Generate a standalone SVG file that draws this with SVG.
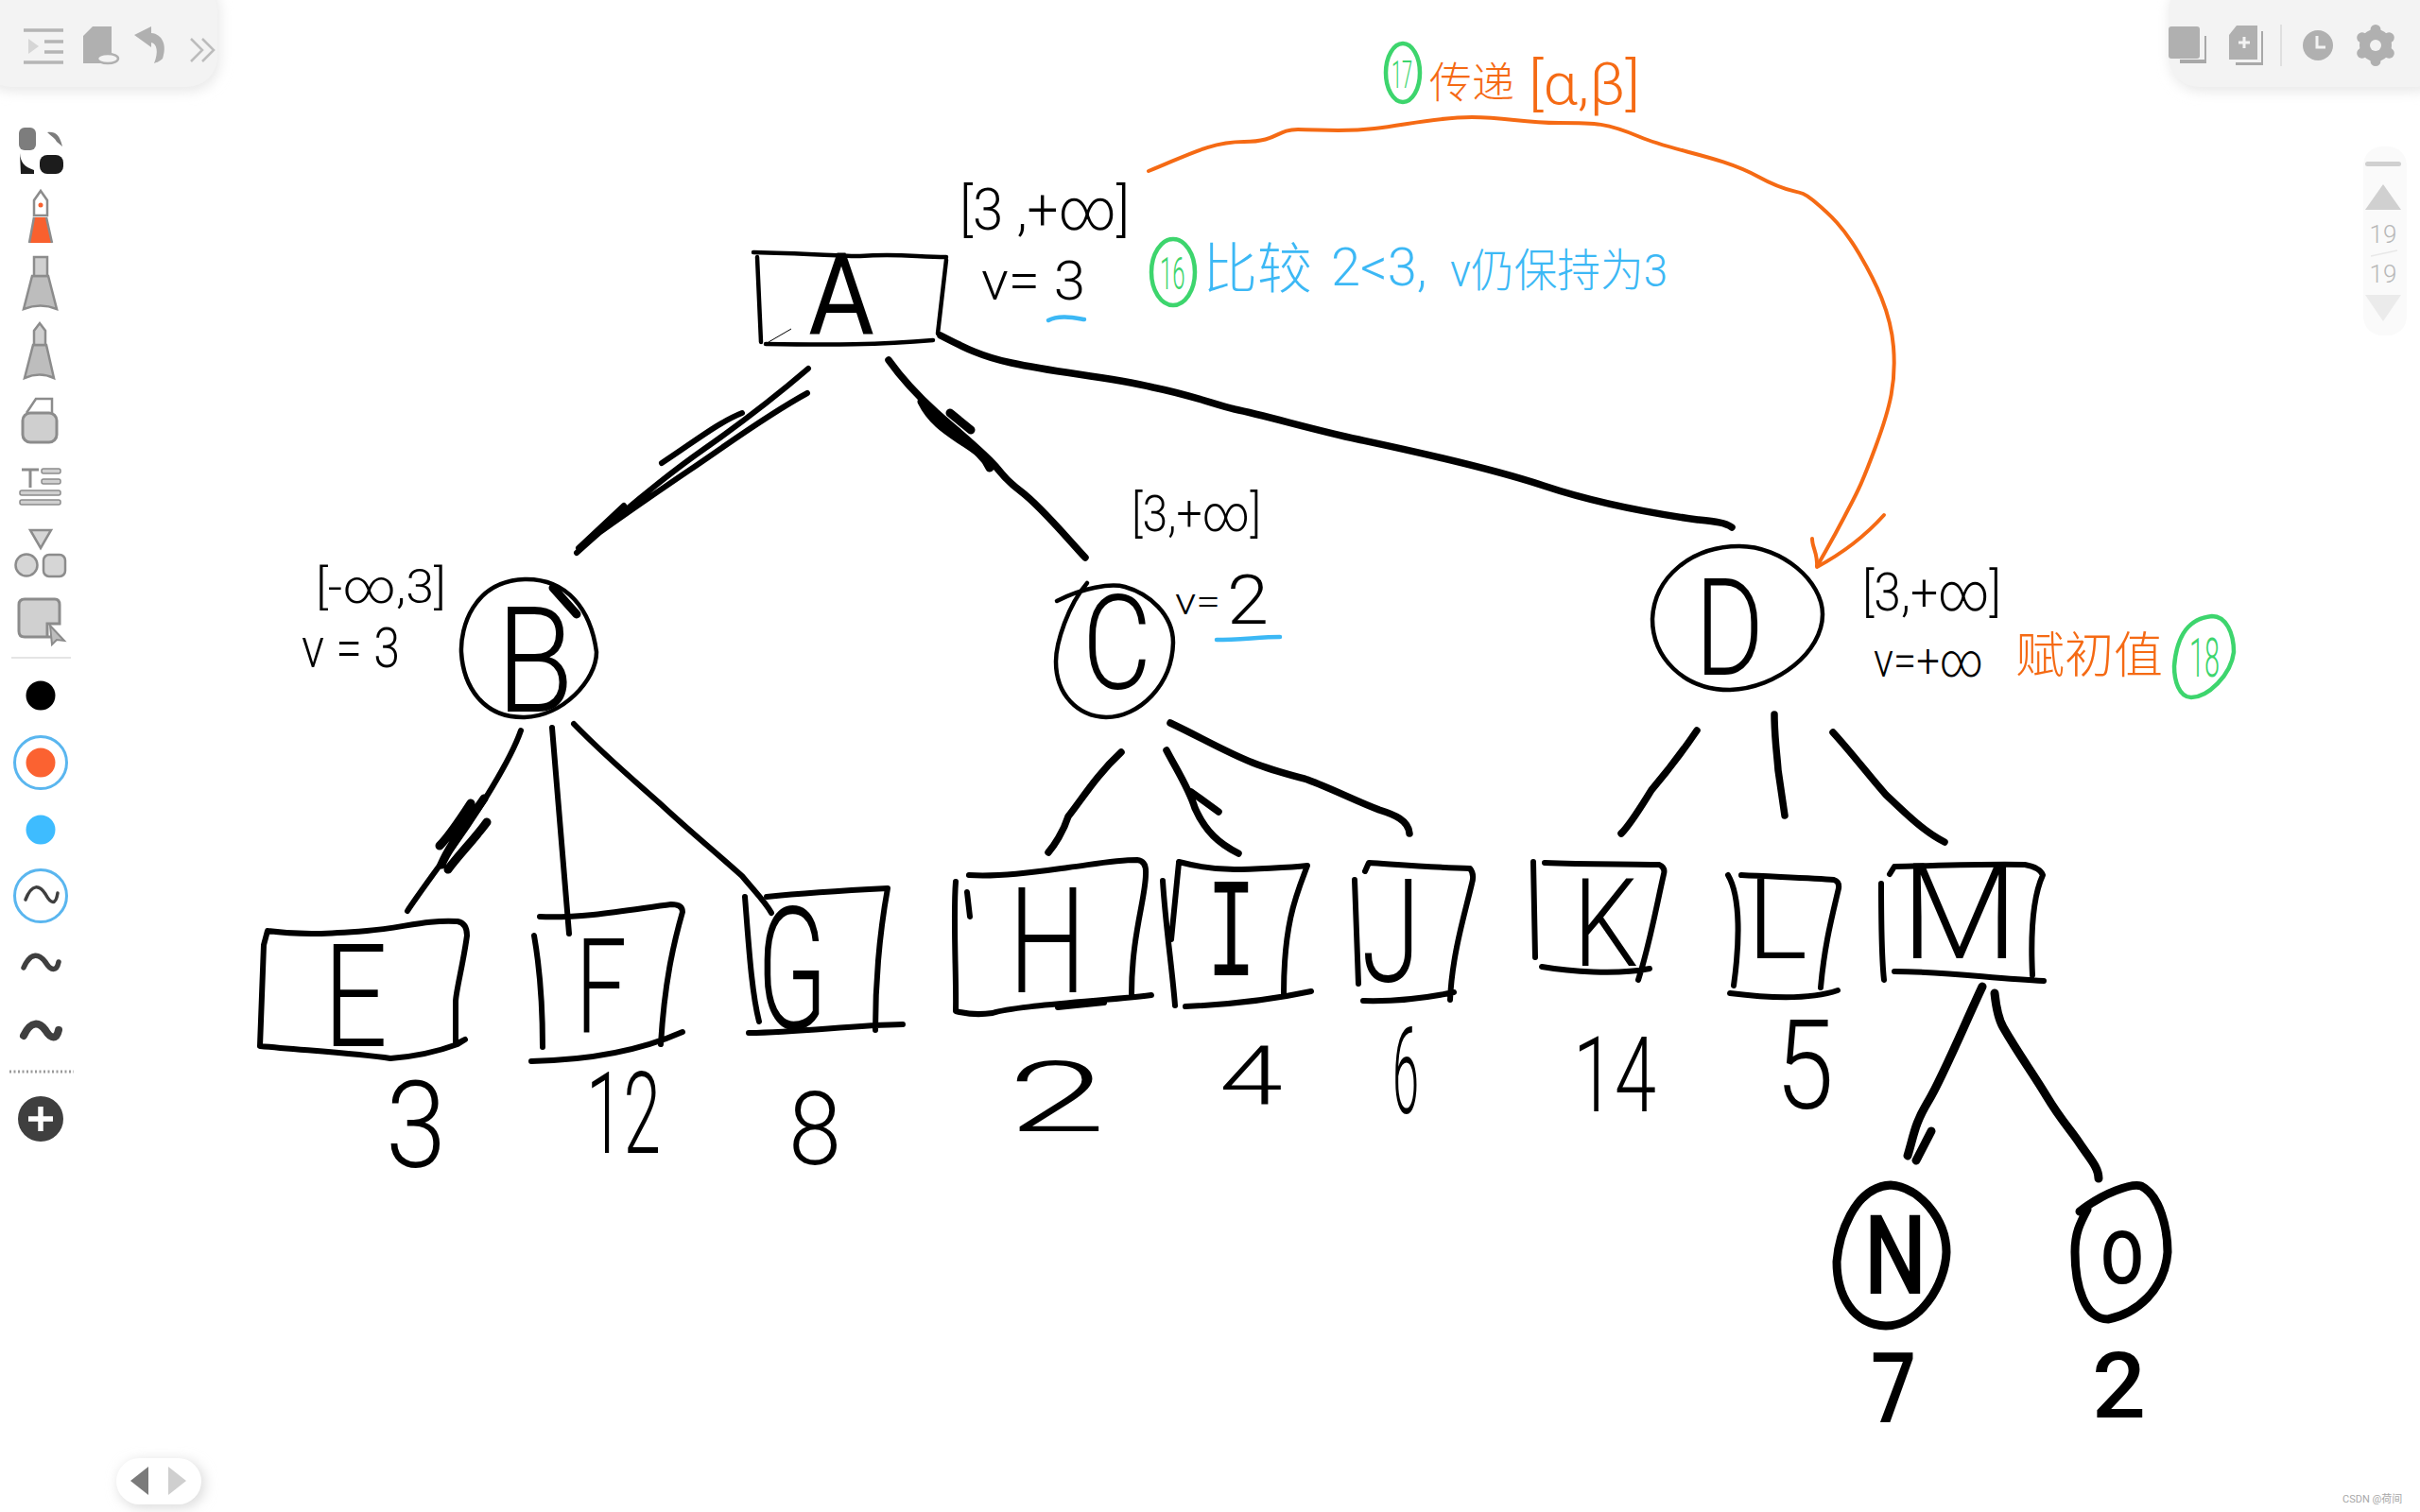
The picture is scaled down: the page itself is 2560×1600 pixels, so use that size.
<svg xmlns="http://www.w3.org/2000/svg" width="2560" height="1600" viewBox="0 0 2560 1600">
<style>
.k{fill:none;stroke:#000;stroke-width:6;stroke-linecap:round;stroke-linejoin:round}
.t{stroke-width:4.5}
.b{stroke-width:9}
.e{stroke-width:7.5}
.o{fill:none;stroke:#f56a14;stroke-width:4;stroke-linecap:round;stroke-linejoin:round}
.g{fill:none;stroke:#3dd56d;stroke-width:4.5}
.u{fill:none;stroke:#3cb8f5;stroke-width:4.5;stroke-linecap:round}
text{font-family:Roboto,"Liberation Sans","Noto Sans CJK SC",sans-serif}
.h{fill:#000;font-weight:300}
.hb{fill:#000;font-weight:400}
.hc{fill:#000;font-weight:500}
.cb{fill:#3cb8f5;font-weight:300;font-family:Roboto,"Noto Sans CJK SC",sans-serif}
.co{fill:#f56a14;font-weight:300;font-family:Roboto,"Noto Sans CJK SC",sans-serif}
.cg{fill:#3dd56d;font-weight:300}
.i{fill:#b0b0b0}
.w{fill:none;stroke:#3f3f3f;stroke-linecap:round}
</style>
<defs>
<filter id="sh" x="-20%" y="-40%" width="140%" height="180%"><feGaussianBlur stdDeviation="7"/></filter>
</defs>
<rect width="2560" height="1600" fill="#fff"/>

<g id="toolbar-top-left">
<rect x="-20" y="-20" width="252" height="116" rx="32" fill="#e6e6e6" filter="url(#sh)"/>
<rect x="-20" y="-20" width="250" height="112" rx="32" fill="#f3f3f3"/>
<path d="M25 32H67M47 44H67M47 55H67M25 66H67" stroke="#b5b5b5" stroke-width="3.5" fill="none"/>
<path d="M30 41L41 49L30 57Z" fill="#d6d6d6"/>
<path d="M98 28H118V56L125 60L112 67H88V38Z" class="i"/>
<ellipse cx="114" cy="62" rx="11" ry="5" fill="#f3f3f3" stroke="#b0b0b0" stroke-width="2.5"/>
<path d="M142 37L160 28V35C172 36 177 48 172 62C168 66 165 66 163 67C168 55 166 46 160 45V50Z" fill="#b0b0b0"/>
<path d="M202 41L214 53L202 65M214 41L226 53L214 65" fill="none" stroke="#bcbcbc" stroke-width="2.5"/>
</g>

<g id="toolbar-left">
<rect x="20" y="135" width="18" height="24" rx="6" fill="#7d7d7d"/>
<path d="M50 140C58 139 63 142 66 155L60 150C58 146 54 144 50 140Z" fill="#7d7d7d"/>
<path d="M21 162C22 172 25 176 36 180V184H22Z" fill="#1c1c1c"/>
<rect x="42" y="164" width="25" height="20" rx="8" fill="#1c1c1c"/>
<path d="M36 228V212L43 202L50 212V228Z" fill="none" stroke="#8c8c8c" stroke-width="2.5"/>
<circle cx="43" cy="217" r="2.5" fill="#f9602e"/>
<path d="M36 230H49L55 257H31Z" fill="#f9602e"/>
<path d="M36 230L31 257M49 230L55 257" stroke="#8c8c8c" stroke-width="2.5" fill="none"/>
<path d="M25 327L34 292H51L60 327Q43 320 25 327Z" fill="#bdbdbd" stroke="#8c8c8c" stroke-width="2.5"/>
<rect x="36" y="272" width="14" height="20" fill="#d0d0d0" stroke="#8c8c8c" stroke-width="2.5"/>
<path d="M26 400L35 365H49L57 400Q42 393 26 400Z" fill="#bdbdbd" stroke="#8c8c8c" stroke-width="2.5"/>
<path d="M36 365V350L42 342L48 350V365Z" fill="#d0d0d0" stroke="#8c8c8c" stroke-width="2.5"/>
<path d="M28 437L38 422H55V437" fill="none" stroke="#8c8c8c" stroke-width="2.5"/>
<rect x="24" y="437" width="36" height="31" rx="8" fill="#cfcfcf" stroke="#8c8c8c" stroke-width="3"/>
<path d="M23 497H41M32 497V516" stroke="#8c8c8c" stroke-width="3" fill="none"/>
<rect x="44" y="496" width="20" height="5" rx="2" fill="#d0d0d0" stroke="#8c8c8c" stroke-width="1.5"/>
<rect x="44" y="507" width="20" height="5" rx="2" fill="#d0d0d0" stroke="#8c8c8c" stroke-width="1.5"/>
<rect x="21" y="519" width="43" height="5" rx="2" fill="#d0d0d0" stroke="#8c8c8c" stroke-width="1.5"/>
<rect x="21" y="529" width="43" height="5" rx="2" fill="#d0d0d0" stroke="#8c8c8c" stroke-width="1.5"/>
<path d="M32 561H54L43 580Z" fill="#d6d6d6" stroke="#8c8c8c" stroke-width="2.5"/>
<circle cx="28" cy="598" r="11.5" fill="#d6d6d6" stroke="#8c8c8c" stroke-width="2.5"/>
<rect x="46" y="587" width="23" height="23" rx="6" fill="#d6d6d6" stroke="#8c8c8c" stroke-width="2.5"/>
<path d="M60 674H26Q20 674 20 668V640Q20 634 26 634H58Q63 634 63 640V660H50V674Z" fill="#d0d0d0" stroke="#8c8c8c" stroke-width="3"/>
<path d="M53 662L68 678L60 677L55 682Z" fill="#bdbdbd" stroke="#8c8c8c" stroke-width="2"/>
<path d="M12 696H75" stroke="#dcdcdc" stroke-width="1.5"/>
<circle cx="43" cy="736" r="15.5" fill="#000"/>
<circle cx="43" cy="807" r="15.5" fill="#fb6231"/>
<circle cx="43" cy="807" r="27.5" fill="none" stroke="#5ab6ef" stroke-width="3"/>
<circle cx="43" cy="878" r="15.5" fill="#3ebcff"/>
<circle cx="43" cy="948" r="27.5" fill="none" stroke="#5ab6ef" stroke-width="3"/>
<path class="w" stroke-width="3.5" d="M27 952C34 934 42 937 48 946C54 957 59 958 61 945"/>
<path class="w" stroke-width="5.5" d="M25 1024C33 1006 42 1010 48 1018C54 1028 60 1028 62 1018"/>
<path class="w" stroke-width="8" d="M25 1096C33 1079 42 1082 48 1090C54 1100 60 1100 62 1090"/>
<path d="M10 1134H78" stroke="#9a9a9a" stroke-width="3" stroke-dasharray="2 2.5"/>
<circle cx="43" cy="1184" r="24" fill="#3f3f3f"/>
<path d="M30 1184H56M43 1171V1197" stroke="#fff" stroke-width="5.5"/>
</g>

<g id="toolbar-top-right">
<rect x="2296" y="-20" width="290" height="116" rx="32" fill="#e6e6e6" filter="url(#sh)"/>
<rect x="2294" y="-20" width="292" height="112" rx="32" fill="#f3f3f3"/>
<path d="M2332 38H2334V67H2306V63H2332Z" fill="#a8a8a8"/>
<rect x="2294" y="28" width="33" height="34" rx="3" fill="#b0b0b0"/>
<path d="M2366 27H2388V63H2358V37Z" fill="#b0b0b0"/>
<path d="M2392 33H2394V69H2365V66H2392Z" fill="#a8a8a8"/>
<path d="M2368 45H2380M2374 39V51" stroke="#f3f3f3" stroke-width="3"/>
<path d="M2413 26V70" stroke="#dfdfdf" stroke-width="2"/>
<circle cx="2452" cy="48" r="16" fill="#b0b0b0"/>
<path d="M2451 38V50H2460" fill="none" stroke="#f3f3f3" stroke-width="3"/>
<circle cx="2513" cy="48" r="12.5" fill="none" stroke="#b0b0b0" stroke-width="9"/>
<path d="M2513 31.5V64.5M2498.700 39.750L2527.300 56.250M2498.700 56.250L2527.300 39.750" stroke="#b0b0b0" stroke-width="11" stroke-linecap="round"/>
<circle cx="2513" cy="48" r="6" fill="#f3f3f3"/>
</g>

<g id="page-nav">
<rect x="2500" y="155" width="46" height="200" rx="20" fill="#fafafa"/>
<rect x="2502" y="171" width="38" height="5" rx="2.5" fill="#d0d0d0"/>
<path d="M2521 195L2540 222H2502Z" fill="#d0d0d0"/>
<text x="2521" y="257" font-size="26" font-weight="300" fill="#b8b8b8" text-anchor="middle">19</text>
<path d="M2508 271L2536 265" stroke="#e8e8e8" stroke-width="1.5"/>
<text x="2521" y="299" font-size="26" font-weight="300" fill="#b8b8b8" text-anchor="middle">19</text>
<path d="M2502 312H2540L2521 340Z" fill="#ebebeb"/>
</g>

<g id="pager">
<rect x="126" y="1546" width="90" height="49" rx="24" fill="#d8d8d8" filter="url(#sh)"/>
<rect x="123" y="1543" width="90" height="49" rx="24.5" fill="#fff"/>
<path d="M157 1552V1582L138 1567Z" fill="#7a7a7a"/>
<path d="M178 1552V1582L197 1567Z" fill="#cfcfcf"/>
</g>
<text x="2478" y="1590" font-size="11" fill="#a8a8a8" font-family="'Liberation Sans','Noto Sans CJK SC',sans-serif">CSDN @荷间</text>

<g id="connectors">
<path class="k" d="M855 390C820 420 785 447 745 475S660 540 610 585M854 416C810 440 770 470 730 497S660 545 625 570M785 437C760 447 735 467 700 490M660 535L612 580"/>
<path class="k e" d="M940 381C955 402 970 418 990 436S1030 470 1047 487S1060 505 1080 520S1125 565 1148 590"/>
<path class="k b" d="M975 425C985 445 1000 455 1015 465S1040 480 1047 495M1005 437L1027 455"/>
<path class="k e" d="M995 355C1020 368 1040 378 1070 384C1120 395 1170 398 1220 410C1260 418 1285 428 1306 433C1340 440 1390 455 1437 465S1570 493 1633 514S1760 545 1796 550C1815 552 1825 553 1832 558"/>
<path class="k" d="M551 773C540 805 505 860 480 895S440 950 431 964"/>
<path class="k b" d="M512 845C495 870 475 895 467 915M515 870C500 890 485 905 474 920M498 850C485 870 475 885 465 895"/>
<path class="k" d="M584 770L602 988"/>
<path class="k" d="M607 766C640 800 670 825 699 851C730 880 755 900 785 927C800 945 810 955 816 966"/>
<path class="k e" d="M1186 796C1160 820 1145 845 1130 864C1125 880 1115 895 1109 902"/>
<path class="k e" d="M1234 794C1245 815 1258 835 1264 855C1275 880 1290 893 1310 903M1260 838L1289 859"/>
<path class="k e" d="M1238 765C1270 780 1295 795 1325 807C1345 815 1365 820 1383 825C1410 835 1435 848 1459 857C1475 862 1490 868 1491 882"/>
<path class="k e" d="M1795 773C1780 795 1765 815 1747 836C1735 855 1725 872 1715 882"/>
<path class="k e" d="M1877 756C1877 780 1880 800 1881 815C1884 835 1886 850 1888 863"/>
<path class="k e" d="M1939 775C1960 798 1978 822 1995 841C2015 860 2035 880 2057 891"/>
<path class="k b" d="M2097 1044C2080 1080 2055 1140 2040 1165S2025 1200 2018 1223M2043 1197L2027 1228"/>
<path class="k b" d="M2110 1051C2112 1070 2115 1080 2119 1087C2135 1115 2150 1135 2165 1160S2190 1195 2200 1210S2220 1235 2220 1247"/>
<path class="o" d="M1215 181C1255 165 1280 150 1316 150S1350 137 1373 137S1420 140 1454 136S1520 124 1557 124S1610 130 1649 130S1700 130 1735 145S1820 165 1860 187S1900 197 1918 212S1950 240 1967 269S2000 330 2003 367S2000 430 1984 473S1965 520 1951 547S1930 585 1923 598"/>
<path class="o" d="M1917 570C1917 580 1923 585 1922 600C1950 585 1975 565 1993 545"/>
</g>

<g id="node-A">
<path class="k t" d="M797 267C850 268 890 271 910 271C950 268 970 272 1001 272M1001 275L992 353M801 272L805 362M810 364C880 365 930 365 987 360"/>
<path d="M813 362L837 348" stroke="#000" stroke-width="1" fill="none"/>
<text class="hb" x="855" y="353" font-size="121" textLength="70" lengthAdjust="spacingAndGlyphs">A</text>
</g>
<g id="label-A">
<text class="h" x="1015" y="243" font-size="62" textLength="180" lengthAdjust="spacingAndGlyphs">[3 ,+∞]</text>
<text class="h" x="1038" y="317" font-size="58" textLength="110" lengthAdjust="spacingAndGlyphs">v= 3</text>
<path class="u" d="M1109 339C1120 333 1135 336 1147 338"/>
</g>

<g id="node-B">
<path class="k t" d="M555 613C600 612 625 645 631 690C631 720 595 758 555 759C510 760 490 725 488 690C487 665 500 615 555 613Z"/>
<text class="h" x="525" y="753" font-size="155" textLength="82" lengthAdjust="spacingAndGlyphs">B</text>
<path class="k b" d="M585 622L610 650"/>
</g>
<g id="label-B">
<text class="h" x="334" y="638" font-size="50" textLength="138" lengthAdjust="spacingAndGlyphs">[-∞,3]</text>
<text class="h" x="319" y="706" font-size="60" textLength="104" lengthAdjust="spacingAndGlyphs">v = 3</text>
</g>

<g id="node-C">
<path class="k t" d="M1118 636C1145 622 1175 617 1190 621C1215 628 1241 650 1241 680C1240 725 1205 759 1170 759C1140 758 1117 735 1117 700C1117 680 1130 640 1150 617"/>
<text class="h" x="1145" y="729" font-size="140" textLength="73" lengthAdjust="spacingAndGlyphs">C</text>
</g>
<g id="label-C">
<text class="h" x="1197" y="562" font-size="54" textLength="137" lengthAdjust="spacingAndGlyphs">[3,+∞]</text>
<text class="h" x="1243" y="650" font-size="38" textLength="48" lengthAdjust="spacingAndGlyphs">v=</text>
<text class="h" x="1298" y="660" font-size="72" textLength="44" lengthAdjust="spacingAndGlyphs">2</text>
<path class="u" d="M1287 677C1310 677 1335 674 1354 674"/>
</g>

<g id="node-D">
<path class="k t" d="M1840 578C1885 578 1928 615 1928 650C1928 690 1880 728 1830 730C1780 730 1748 695 1748 655C1750 610 1790 578 1840 578Z"/>
<text class="h" x="1793" y="714" font-size="143" textLength="73" lengthAdjust="spacingAndGlyphs">D</text>
</g>
<g id="label-D">
<text class="h" x="1970" y="646" font-size="56" textLength="147" lengthAdjust="spacingAndGlyphs">[3,+∞]</text>
<text class="h" x="1982" y="716" font-size="50" textLength="116" lengthAdjust="spacingAndGlyphs">v=+∞</text>
<text class="co" x="2132" y="712" font-size="52">赋初值</text>
<path class="g" d="M2340 652C2355 652 2363 670 2363 690C2360 715 2335 738 2318 738C2305 738 2300 720 2300 705C2302 680 2310 655 2340 652Z"/>
<text class="cg" x="2316" y="716" font-size="58" textLength="32" lengthAdjust="spacingAndGlyphs">18</text>
</g>

<g id="annotation-16">
<ellipse class="g" cx="1241" cy="288" rx="23" ry="35"/>
<text class="cg" x="1227" y="306" font-size="48" transform="translate(613.500 0) scale(0.5 1)">16</text>
<text class="cb" x="1272" y="305" font-size="58">比较</text>
<text class="cb" x="1408" y="302" font-size="56">2&lt;3,</text>
<text class="cb" x="1534" y="303" font-size="48" textLength="230" lengthAdjust="spacingAndGlyphs">v仍保持为3</text>
</g>
<g id="annotation-17">
<ellipse class="g" cx="1484" cy="77" rx="18" ry="31"/>
<text class="cg" x="1472" y="93" font-size="40" transform="translate(736 0) scale(0.5 1)">17</text>
<text class="co" x="1512" y="104" font-size="45">传递</text>
<text class="co" x="1617" y="110" font-size="62" textLength="118" lengthAdjust="spacingAndGlyphs">[α,β]</text>
</g>

<g id="node-E">
<path class="k" d="M283 985C320 990 350 988 388 985S450 973 484 975Q494 977 494 990C490 1020 482 1050 482 1060V1105L492 1100L484 1105C465 1112 440 1118 413 1120C380 1115 330 1112 275 1107L279 1000L283 985"/>
<text class="h" x="342" y="1107" font-size="153" textLength="68" lengthAdjust="spacingAndGlyphs">E</text>
<text class="h" x="408" y="1235" font-size="128" textLength="64" lengthAdjust="spacingAndGlyphs">3</text>
</g>
<g id="node-F">
<path class="k" d="M571 970C620 972 670 962 710 957Q722 957 722 965C712 1000 703 1040 699 1105M565 990C572 1030 574 1070 574 1108M562 1123C610 1122 670 1115 722 1092"/>
<text class="h" x="609" y="1092" font-size="140" textLength="54" lengthAdjust="spacingAndGlyphs">F</text>
<text class="h" x="620" y="1220" font-size="120" textLength="79" lengthAdjust="spacingAndGlyphs">12</text>
</g>
<g id="node-G">
<path class="k" d="M811 949C850 945 900 942 939 940C930 990 926 1040 926 1090M788 949C792 1000 795 1050 803 1081M792 1093C850 1092 900 1085 955 1084"/>
<text class="h" x="801" y="1088" font-size="180" textLength="74" lengthAdjust="spacingAndGlyphs">G</text>
<text class="h" x="834" y="1232" font-size="108" textLength="56" lengthAdjust="spacingAndGlyphs">8</text>
</g>
<g id="node-H">
<path class="k" d="M1025 926C1060 928 1100 922 1130 918S1180 910 1203 910Q1213 911 1212 925C1212 950 1197 990 1197 1052M1011 933C1008 970 1012 1040 1011 1070Q1030 1075 1050 1072C1075 1064 1160 1060 1218 1053M1023 944L1026 970M1119 1066L1168 1061"/>
<text class="h" x="1067" y="1050" font-size="156" textLength="82" lengthAdjust="spacingAndGlyphs">H</text>
<text class="h" x="1066" y="1197" font-size="103" textLength="104" lengthAdjust="spacingAndGlyphs">2</text>
</g>
<g id="node-I">
<path class="k" d="M1247 912C1270 918 1290 920 1306 920S1365 918 1383 916C1372 945 1358 975 1358 1052M1230 932C1233 980 1240 1025 1243 1064M1247 913L1239 994M1254 1065C1300 1063 1345 1058 1387 1049"/>
<text class="h" x="1276" y="1032" font-size="150" textLength="53" lengthAdjust="spacingAndGlyphs" style="font-family:'Liberation Mono',monospace">I</text>
<text class="h" x="1290" y="1169" font-size="87" textLength="67" lengthAdjust="spacingAndGlyphs">4</text>
</g>
<g id="node-J">
<path class="k" d="M1444 922L1448 913C1480 915 1520 918 1555 919Q1560 925 1557 935C1550 965 1536 1010 1534 1058M1433 931L1437 1041M1442 1059C1480 1060 1510 1056 1538 1050"/>
<text class="h" x="1440" y="1039" font-size="152" textLength="63" lengthAdjust="spacingAndGlyphs">J</text>
<text class="h" x="1473" y="1178" font-size="128" textLength="28" lengthAdjust="spacingAndGlyphs">6</text>
</g>
<g id="node-K">
<path class="k" d="M1634 913C1680 915 1720 914 1755 915Q1762 918 1760 925C1752 960 1745 1000 1733 1037M1622 912L1624 1013M1631 1023C1660 1028 1710 1032 1745 1025"/>
<text class="h" x="1664" y="1022" font-size="130" textLength="69" lengthAdjust="spacingAndGlyphs">K</text>
<text class="h" x="1664" y="1176" font-size="111" textLength="88" lengthAdjust="spacingAndGlyphs">14</text>
</g>
<g id="node-L">
<path class="k" d="M1842 926C1880 928 1920 929 1940 931Q1946 933 1945 940C1938 970 1930 1000 1926 1045M1828 926C1842 950 1840 1000 1834 1043M1830 1051C1870 1056 1915 1058 1944 1048"/>
<text class="h" x="1848" y="1014" font-size="118" textLength="64" lengthAdjust="spacingAndGlyphs">L</text>
<text class="h" x="1878" y="1173" font-size="132" textLength="62" lengthAdjust="spacingAndGlyphs">5</text>
</g>
<g id="node-M">
<path class="k" d="M1999 925L2004 917C2050 916 2100 914 2142 915Q2158 918 2161 926C2150 950 2148 990 2150 1032M1990 935C1990 970 1990 1010 1993 1037M2004 1028C2060 1028 2110 1036 2162 1038"/>
<text class="h" x="2011" y="1014" font-size="141" textLength="124" lengthAdjust="spacingAndGlyphs">M</text>
</g>
<g id="node-N">
<path class="k b" d="M2000 1254C2030 1256 2059 1290 2059 1325C2058 1360 2030 1403 1995 1403C1960 1402 1943 1370 1943 1335C1945 1310 1960 1256 2000 1254Z"/>
<text class="hc" x="1972" y="1369" font-size="117" textLength="66" lengthAdjust="spacingAndGlyphs">N</text>
<text class="hc" x="1979" y="1505" font-size="103" textLength="48" lengthAdjust="spacingAndGlyphs">7</text>
</g>
<g id="node-O">
<path class="k b" d="M2200 1282C2225 1262 2255 1252 2265 1255C2285 1265 2293 1300 2293 1325C2290 1365 2260 1390 2230 1396C2205 1396 2195 1360 2195 1325C2195 1305 2200 1295 2208 1280"/>
<text class="hc" x="2222" y="1358" font-size="78" textLength="46" lengthAdjust="spacingAndGlyphs">O</text>
<text class="hc" x="2213" y="1500" font-size="96" textLength="57" lengthAdjust="spacingAndGlyphs">2</text>
</g>
</svg>
